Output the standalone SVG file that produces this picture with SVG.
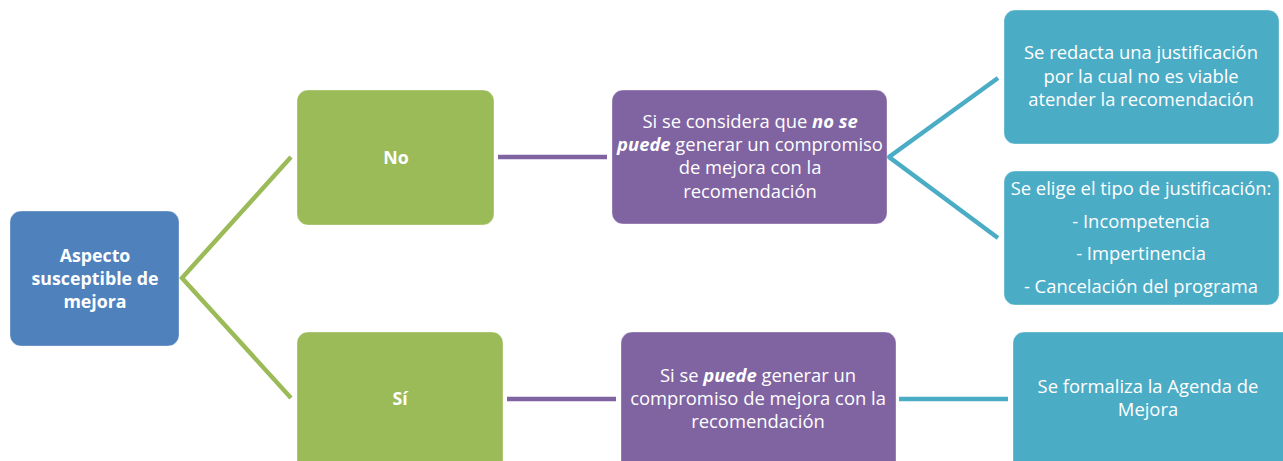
<svg xmlns="http://www.w3.org/2000/svg" width="1283" height="461" viewBox="0 0 1283 461">
<style>
text{font-family:"Open Sans","Liberation Sans",sans-serif;font-size:18.4px;fill:#fff;text-anchor:middle}
.b{font-weight:bold}
.t{font-size:17.8px}
.bl{fill:#4F81BD}.gr{fill:#9BBB59}.pu{fill:#8064A2}.cy{fill:#4BACC6}
.box{stroke:#fff;stroke-opacity:0.35;stroke-width:1}
</style>
<rect width="1283" height="461" fill="#fff"/>
<g id="connectors" fill="none" stroke-width="4.5">
<polyline points="291,157 182,278 291,398" stroke="#9BBB59"/>
<line x1="498" y1="157" x2="607" y2="157" stroke="#8064A2"/>
<polyline points="998,78 889,157 998,238" stroke="#4BACC6"/>
<line x1="507" y1="399" x2="616" y2="399" stroke="#8064A2"/>
<line x1="899" y1="399" x2="1008" y2="399" stroke="#4BACC6"/>
</g>
<g id="aspecto">
<rect class="bl box" x="10" y="211" width="169" height="135" rx="11"/>
<text class="b t" x="95" y="262">Aspecto</text>
<text class="b t" x="95" y="285">susceptible de</text>
<text class="b t" x="95" y="308">mejora</text>
</g>
<g id="no">
<rect class="gr box" x="297" y="90" width="197" height="135" rx="11"/>
<text class="b t" x="396" y="164">No</text>
</g>
<g id="si">
<rect class="gr box" x="297" y="332" width="206" height="145" rx="11"/>
<text class="b t" x="400" y="405">Sí</text>
</g>
<g id="no-puede">
<rect class="pu box" x="612" y="90" width="275" height="134" rx="11"/>
<text x="750" y="128">Si se considera que <tspan class="b" font-style="italic">no se</tspan></text>
<text x="750" y="151"><tspan class="b" font-style="italic">puede</tspan> generar un compromiso</text>
<text x="750" y="174">de mejora con la</text>
<text x="750" y="198">recomendación</text>
</g>
<g id="redacta">
<rect class="cy box" x="1004" y="10" width="275" height="134" rx="11"/>
<text x="1141" y="59">Se redacta una justificación</text>
<text x="1141" y="83">por la cual no es viable</text>
<text x="1141" y="106">atender la recomendación</text>
</g>
<g id="elige">
<rect class="cy box" x="1004" y="171" width="275" height="134" rx="11"/>
<text x="1141" y="195">Se elige el tipo de justificación:</text>
<text x="1141" y="228">- Incompetencia</text>
<text x="1141" y="260">- Impertinencia</text>
<text x="1141" y="293">- Cancelación del programa</text>
</g>
<g id="si-puede">
<rect class="pu box" x="621" y="332" width="275" height="145" rx="11"/>
<text x="758" y="382">Si se <tspan class="b" font-style="italic">puede</tspan> generar un</text>
<text x="758" y="405">compromiso de mejora con la</text>
<text x="758" y="428">recomendación</text>
</g>
<g id="formaliza">
<rect class="cy box" x="1013" y="332" width="290" height="145" rx="11"/>
<text x="1148" y="393">Se formaliza la Agenda de</text>
<text x="1148" y="416">Mejora</text>
</g>
</svg>
